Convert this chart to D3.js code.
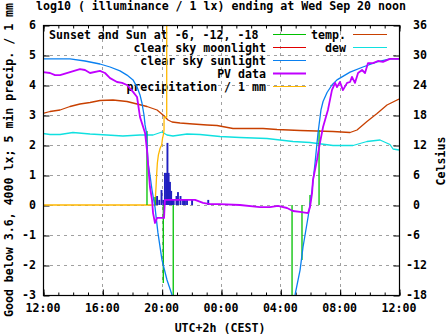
<!DOCTYPE html>
<html>
<head>
<meta charset="utf-8">
<script src="https://cdn.jsdelivr.net/npm/d3@7"></script>
<style>
  html, body { margin: 0; padding: 0; background: #fff; }
  svg { display: block; }
  text { font-family: "DejaVu Sans Mono", "Liberation Mono", monospace; font-weight: bold; font-size: 11.6px; fill: #000; }
</style>
</head>
<body>
<svg id="chart" width="447" height="335"></svg>
<script>
// ---------- DATA (times in hours, 12 = 12:00 noon, 24 = midnight, 36 = next noon) ----------
const xTickHours = [12, 16, 20, 24, 28, 32, 36];
const xTickLabels = ["12:00", "16:00", "20:00", "00:00", "04:00", "08:00", "12:00"];
const yLeftTicks = [-3, -2, -1, 0, 1, 2, 3, 4, 5, 6];
const yRightTicks = [-18, -12, -6, 0, 6, 12, 18, 24, 30, 36];

// clear sky sunlight (log10 lx)
const sunTimes = [12.0, 13.82, 14.83, 15.84, 16.52, 17.19, 17.66, 18.07, 18.34, 18.54, 18.67, 18.81, 18.88, 18.98, 19.08, 19.21, 19.35, 19.55, 19.75, 20.02, 20.36, 20.70, 20.97, 28.52, 28.99, 29.33, 29.53, 29.87, 30.14, 30.34, 30.54, 30.74, 30.88, 31.15, 31.48, 31.82, 32.70, 33.57, 34.52, 35.39, 36.0];
const sunValues = [4.87, 4.87, 4.8, 4.7, 4.6, 4.47, 4.33, 4.17, 3.93, 3.67, 3.4, 3.0, 2.67, 2.4, 1.4, 1.0, 0.5, -0.07, -0.93, -1.83, -2.5, -3.0, -3.4, -3.4, -3.0, -2.17, -1.4, -0.4, 0.5, 1.4, 2.4, 3.17, 3.45, 3.75, 4.0, 4.17, 4.43, 4.6, 4.77, 4.87, 4.87];

// clear sky moonlight
const moonTimes = [12.0, 12.12, 36.0];
const moonValues = [-2.97, -3.6, -3.6];

// PV data (log10 lx)
const pvTimes = [12.0, 12.47, 12.81, 13.15, 13.82, 14.49, 14.83, 15.17, 15.84, 16.18, 16.52, 16.99, 17.33, 17.66, 18.07, 18.34, 18.40, 18.54, 18.67, 18.88, 19.01, 19.08, 19.21, 19.35, 19.42, 19.55, 19.69, 20.16, 20.22, 21.71, 22.25, 22.79, 23.26, 23.93, 25.28, 26.63, 27.30, 27.84, 28.45, 28.85, 29.33, 29.87, 30.0, 30.14, 30.20, 30.47, 30.67, 30.88, 31.15, 31.21, 31.48, 31.69, 31.82, 32.02, 32.22, 32.50, 32.70, 32.83, 33.03, 33.24, 33.51, 33.71, 33.91, 34.25, 34.58, 34.92, 35.39, 36.0];
const pvValues = [4.43, 4.4, 4.33, 4.33, 4.43, 4.53, 4.5, 4.4, 4.47, 4.4, 4.23, 4.1, 4.07, 4.0, 3.77, 3.6, 3.4, 2.93, 2.73, 2.4, 1.83, 1.4, 0.6, 0.17, -0.27, -0.6, -0.43, -0.43, 0.17, 0.17, 0.17, 0.07, 0.03, 0.03, 0.0, -0.07, -0.07, -0.03, -0.1, -0.2, -0.23, -0.27, -0.07, 0.4, 0.83, 1.5, 2.07, 2.6, 3.07, 3.17, 3.83, 4.07, 3.93, 4.1, 3.83, 4.07, 4.1, 4.27, 4.07, 4.4, 4.5, 4.4, 4.73, 4.73, 4.8, 4.77, 4.87, 4.87];

// cumulative precipitation / 1 mm
const rainTimes = [12.0, 19.55, 19.62, 19.66, 19.71, 19.78, 19.90, 20.0, 20.06, 20.11, 20.16, 20.16, 20.34, 20.34, 36.0];
const rainValues = [0, 0, 0.6, 1.0, 1.4, 1.67, 1.9, 2.0, 2.23, 2.33, 2.5, 2.93, 2.93, 7.0, 7.0];

// 5 min precipitation bars
const barTimes = [19.58, 19.69, 19.84, 19.99, 20.12, 20.22, 20.31, 20.39, 20.47, 20.56, 20.64, 20.73, 20.81, 21.0, 21.1, 21.27, 21.44, 21.57, 21.71, 22.05, 23.14];
const barValues = [0.17, 0.3, 0.17, 0.5, 0.17, 1.07, 1.07, 2.07, 1.07, 0.77, 0.47, 0.17, 0.17, 0.3, 0.43, 0.3, 0.17, 0.17, 0.17, 0.2, 0.17];

// sunset / sunrise and sun at -6, -12, -18 degrees
const sunEventTimes = [19.01, 19.55, 20.11, 20.78, 28.79, 29.46, 30.0, 30.61];
const sunEventValues = [2.47, 0.27, -2.6, -3.5, -3.5, -1.83, 0.33, 2.5];

// temperature (Celsius)
const tempTimes = [12.0, 12.47, 13.15, 13.82, 14.49, 15.17, 15.84, 16.72, 17.66, 18.34, 19.01, 19.69, 20.09, 20.43, 20.70, 21.24, 22.11, 23.06, 23.73, 24.81, 26.83, 27.78, 29.33, 31.55, 32.70, 33.17, 33.84, 34.52, 35.19, 36.0];
const tempValues = [18.3, 18.7, 19.0, 19.7, 20.2, 20.5, 20.9, 21.0, 20.7, 20.2, 19.7, 19.0, 18.0, 17.0, 16.6, 16.4, 16.2, 16.0, 15.9, 15.3, 15.3, 15.1, 14.9, 14.7, 14.5, 15.0, 16.7, 18.3, 20.0, 21.2];

// dew point (Celsius)
const dewTimes = [12.0, 12.47, 13.15, 14.02, 15.17, 16.31, 17.39, 18.54, 19.42, 20.02, 20.36, 20.76, 21.71, 22.58, 23.93, 25.28, 27.10, 28.85, 30.0, 31.55, 32.90, 33.84, 34.72, 35.39, 35.6, 36.0];
const dewValues = [14.3, 14.1, 14.1, 14.5, 14.2, 14.0, 13.8, 14.0, 14.0, 14.6, 14.0, 13.8, 14.2, 14.1, 13.7, 13.5, 13.3, 12.7, 12.5, 11.9, 11.9, 12.7, 13.0, 12.1, 11.2, 11.0];

// ---------- CHART ----------
const L = 43, R = 399, T = 25, B = 295;
const svg = d3.select("#chart");
const x = d3.scaleLinear().domain([12, 36]).range([L, R]);
const y = d3.scaleLinear().domain([-3, 6]).range([B, T]);
const y2 = d3.scaleLinear().domain([-18, 36]).range([B, T]);

const colors = {
  green: "#00c000", red: "#e00000", blue: "#0a80f0", purple: "#c000ff",
  yellow: "#ffb800", temp: "#c84000", dew: "#10e0e0", bars: "#2020c0", grid: "#a0a0a0"
};

svg.append("defs").append("clipPath").attr("id", "plotclip")
  .append("rect").attr("x", L).attr("y", T).attr("width", R - L).attr("height", B - T);

// grid
const grid = svg.append("g").attr("stroke", colors.grid).attr("stroke-dasharray", "3,4").attr("stroke-width", 1);
yLeftTicks.filter(v => v > -3 && v < 6).forEach(v => {
  grid.append("line").attr("x1", L).attr("x2", R).attr("y1", Math.round(y(v)) + 0.5).attr("y2", Math.round(y(v)) + 0.5);
});
xTickHours.filter(h => h > 12 && h < 36).forEach(h => {
  grid.append("line").attr("y1", T).attr("y2", B).attr("x1", Math.round(x(h)) + 0.5).attr("x2", Math.round(x(h)) + 0.5);
});

// axes (ticks inward)
const hourly = d3.range(12, 37, 1);
function styleAxis(g) { g.select(".domain").remove(); g.selectAll("line").attr("stroke", "#000"); g.selectAll("text").remove(); }
svg.append("g").attr("transform", `translate(0.5,${B + 0.5})`).call(d3.axisBottom(x).tickValues(hourly).tickSize(-3)).call(styleAxis);
svg.append("g").attr("transform", `translate(0.5,${B + 0.5})`).call(d3.axisBottom(x).tickValues(xTickHours).tickSize(-6)).call(styleAxis);
svg.append("g").attr("transform", `translate(0.5,${T + 0.5})`).call(d3.axisTop(x).tickValues(hourly).tickSize(-3)).call(styleAxis);
svg.append("g").attr("transform", `translate(0.5,${T + 0.5})`).call(d3.axisTop(x).tickValues(xTickHours).tickSize(-6)).call(styleAxis);
svg.append("g").attr("transform", `translate(${L + 0.5},0.5)`).call(d3.axisLeft(y).tickValues(yLeftTicks).tickSize(-6)).call(styleAxis);
svg.append("g").attr("transform", `translate(${R + 0.5},0.5)`).call(d3.axisRight(y2).tickValues(yRightTicks).tickSize(-6)).call(styleAxis);

// tick labels
const lbl = svg.append("g");
xTickHours.forEach((h, i) => {
  lbl.append("text").attr("x", x(h)).attr("y", 312).attr("text-anchor", "middle").text(xTickLabels[i]);
});
yLeftTicks.forEach(v => {
  lbl.append("text").attr("x", 36).attr("y", y(v) + 4).attr("text-anchor", "end").text(String(v));
});
yRightTicks.forEach(v => {
  lbl.append("text").attr("x", v < 0 ? 406 : 413).attr("y", y2(v) + 4).attr("text-anchor", "start").text(String(v));
});

// titles
svg.append("text").attr("x", 221).attr("y", 10).attr("text-anchor", "middle")
  .text("log10 ( illuminance / 1 lx) ending at Wed Sep 20 noon");
svg.append("text").attr("x", 220).attr("y", 332).attr("text-anchor", "middle").text("UTC+2h (CEST)");
svg.append("text").attr("transform", "translate(13,160) rotate(-90)").attr("text-anchor", "middle")
  .text("Good below 3.6, 4000 lx; 5 min precip. / 1 mm");
svg.append("text").attr("transform", "translate(445,161) rotate(-90)").attr("text-anchor", "middle").text("Celsius");

// legend
const leg = svg.append("g");
const rows = [
  { label: "Sunset and Sun at -6, -12, -18", color: colors.green, start: true },
  { label: "clear sky moonlight", color: colors.red },
  { label: "clear sky sunlight", color: colors.blue },
  { label: "PV data", color: colors.purple, w: 1.8 },
  { label: "precipitation / 1 mm", color: colors.yellow }
];
rows.forEach((r, i) => {
  const cy = 34.5 + i * 13;
  if (r.start) leg.append("text").attr("x", 49).attr("y", cy + 4).text(r.label);
  else leg.append("text").attr("x", 266).attr("y", cy + 4).attr("text-anchor", "end").text(r.label);
  leg.append("line").attr("x1", 273).attr("x2", 306).attr("y1", cy).attr("y2", cy).attr("stroke", r.color).attr("stroke-width", r.w || 1.2);
});
[{ label: "temp.", color: colors.temp }, { label: "dew", color: colors.dew }].forEach((r, i) => {
  const cy = 34.5 + i * 13;
  leg.append("text").attr("x", 346).attr("y", cy + 4).attr("text-anchor", "end").text(r.label);
  leg.append("line").attr("x1", 353).attr("x2", 387).attr("y1", cy).attr("y2", cy).attr("stroke", r.color).attr("stroke-width", 1.2);
});

// data
const plot = svg.append("g").attr("clip-path", "url(#plotclip)");
function series(times, values, scale, color, width) {
  const pts = times.map((t, i) => [t, values[i]]);
  plot.append("path").datum(pts)
    .attr("d", d3.line().x(d => x(d[0])).y(d => scale(d[1])))
    .attr("fill", "none").attr("stroke", color).attr("stroke-width", width).attr("stroke-linejoin", "round");
}
series(tempTimes, tempValues, y2, colors.temp, 1.3);
series(dewTimes, dewValues, y2, colors.dew, 1.3);

// precipitation bars
const barW = Math.max(1.9, x(12 + 5 / 60) - x(12));
plot.selectAll("rect.bar").data(barTimes.map((t, i) => [t, barValues[i]])).enter().append("rect")
  .attr("x", d => x(d[0]) - barW / 2).attr("width", barW)
  .attr("y", d => y(d[1])).attr("height", d => y(0) - y(d[1]))
  .attr("fill", colors.bars);

series(rainTimes, rainValues, y, colors.yellow, 1.3);
series(moonTimes, moonValues, y, colors.red, 1.3);

// sun event lines
plot.selectAll("line.sun").data(sunEventTimes.map((t, i) => [t, sunEventValues[i]])).enter().append("line")
  .attr("x1", d => x(d[0])).attr("x2", d => x(d[0]))
  .attr("y1", y(0)).attr("y2", d => y(d[1]))
  .attr("stroke", colors.green).attr("stroke-width", 1.3);

series(sunTimes, sunValues, y, colors.blue, 1.3);
series(pvTimes, pvValues, y, colors.purple, 1.8);

// border
svg.append("rect").attr("x", L + 0.5).attr("y", T + 0.5).attr("width", R - L).attr("height", B - T)
  .attr("fill", "none").attr("stroke", "#000").attr("stroke-width", 1.2);
</script>
</body>
</html>
